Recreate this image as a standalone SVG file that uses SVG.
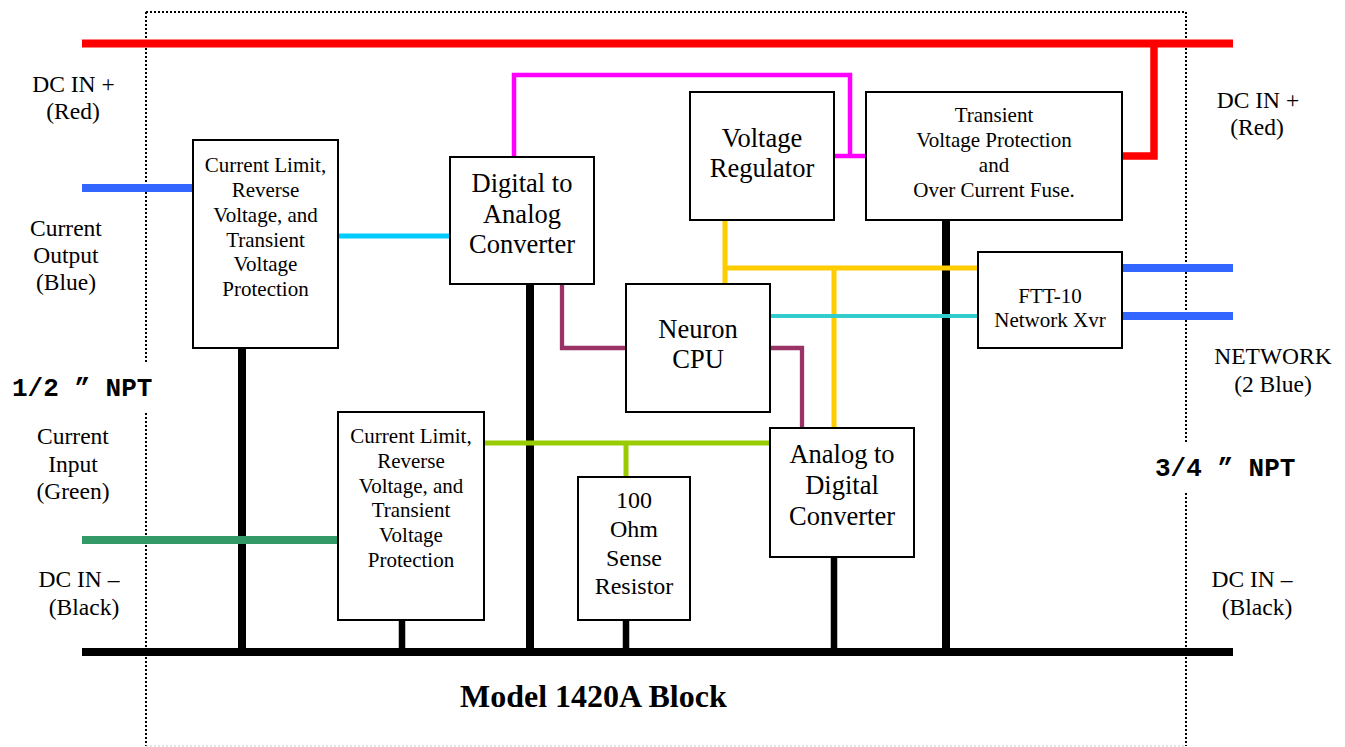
<svg xmlns="http://www.w3.org/2000/svg" width="1345" height="747" viewBox="0 0 1345 747">
  <style>
    .box { fill: #ffffff; stroke: #000000; stroke-width: 2; }
    .t { font-family: "Liberation Serif", "Times New Roman", serif; fill: #000000; text-anchor: middle; }
    .s21 { font-size: 21px; }
    .s24 { font-size: 24px; }
    .s26 { font-size: 26.5px; }
    .lbl { font-family: "Liberation Serif", "Times New Roman", serif; font-size: 23.5px; fill: #000000; text-anchor: middle; }
    .npt { font-family: "Liberation Mono", "Courier New", monospace; font-weight: bold; font-size: 26px; fill: #000000; }
    .title { font-family: "Liberation Serif", "Times New Roman", serif; font-weight: bold; font-size: 32px; fill: #000000; }
    .wire { fill: none; stroke-linecap: butt; stroke-linejoin: miter; }
    .enclosure { fill: none; stroke: #000000; stroke-width: 2; stroke-dasharray: 2 2; }
  </style>

  <rect width="1345" height="747" fill="#ffffff"/>

  <!-- enclosure outline (dotted) -->
  <g id="enclosure">
    <line class="enclosure" x1="146" y1="12" x2="1186" y2="12"/>
    <line class="enclosure" x1="146" y1="12" x2="146" y2="362"/>
    <line class="enclosure" x1="146" y1="413" x2="146" y2="746"/>
    <line class="enclosure" x1="1186" y1="12" x2="1186" y2="442"/>
    <line class="enclosure" x1="1186" y1="493" x2="1186" y2="746"/>
    <line x1="146" y1="746" x2="1186" y2="746" stroke="#c8c8c8" stroke-width="1" stroke-dasharray="2 2"/>
  </g>

  <!-- wiring -->
  <g id="connectors" class="wire">
    <!-- DC+ rail and branch into protection block -->
    <line x1="82" y1="43.5" x2="1233" y2="43.5" stroke="#ff0000" stroke-width="8"/>
    <polyline points="1154,43.5 1154,156 1122,156" stroke="#ff0000" stroke-width="7.5"/>
    <!-- DC- ground bus and drops -->
    <line x1="82" y1="652" x2="1233" y2="652" stroke="#000000" stroke-width="8"/>
    <line x1="242" y1="348" x2="242" y2="652" stroke="#000000" stroke-width="8"/>
    <line x1="530" y1="284" x2="530" y2="652" stroke="#000000" stroke-width="8"/>
    <line x1="946" y1="220" x2="946" y2="652" stroke="#000000" stroke-width="8"/>
    <line x1="402" y1="620" x2="402" y2="652" stroke="#000000" stroke-width="6.5"/>
    <line x1="626" y1="620" x2="626" y2="652" stroke="#000000" stroke-width="6.5"/>
    <line x1="834" y1="557" x2="834" y2="652" stroke="#000000" stroke-width="6.5"/>
    <!-- current output -->
    <line x1="82" y1="188" x2="193" y2="188" stroke="#3366ff" stroke-width="8"/>
    <line x1="338" y1="236" x2="450" y2="236" stroke="#00ccff" stroke-width="5"/>
    <!-- regulated supply to DAC -->
    <polyline points="514,157 514,75 850,75 850,156" stroke="#ff00ff" stroke-width="4.5"/>
    <line x1="834" y1="156" x2="866" y2="156" stroke="#ff00ff" stroke-width="4.5"/>
    <!-- logic supply -->
    <line x1="725" y1="220" x2="725" y2="284" stroke="#ffcc00" stroke-width="5"/>
    <line x1="725" y1="268" x2="978" y2="268" stroke="#ffcc00" stroke-width="5"/>
    <line x1="834" y1="268" x2="834" y2="428" stroke="#ffcc00" stroke-width="5"/>
    <!-- CPU to transceiver -->
    <line x1="770" y1="316" x2="978" y2="316" stroke="#33cccc" stroke-width="4"/>
    <!-- CPU data lines -->
    <polyline points="562,284 562,348 626,348" stroke="#993366" stroke-width="4.3"/>
    <polyline points="770,348 802,348 802,428" stroke="#993366" stroke-width="4.3"/>
    <!-- sense resistor / input -->
    <line x1="484" y1="443" x2="770" y2="443" stroke="#99cc00" stroke-width="5"/>
    <line x1="626" y1="443" x2="626" y2="477" stroke="#99cc00" stroke-width="5"/>
    <line x1="82" y1="540" x2="338" y2="540" stroke="#339966" stroke-width="8"/>
    <!-- network pair -->
    <line x1="1122" y1="268" x2="1233" y2="268" stroke="#3366ff" stroke-width="8"/>
    <line x1="1122" y1="316" x2="1233" y2="316" stroke="#3366ff" stroke-width="8"/>
  </g>

  <!-- blocks -->
  <g id="protect-out">
    <rect class="box" x="193" y="140" width="145" height="208"/>
    <text class="t s21" x="265.5"><tspan x="265.5" y="172">Current Limit,</tspan><tspan x="265.5" y="197">Reverse</tspan><tspan x="265.5" y="222">Voltage, and</tspan><tspan x="265.5" y="247">Transient</tspan><tspan x="265.5" y="271">Voltage</tspan><tspan x="265.5" y="296">Protection</tspan></text>
  </g>

  <g id="protect-in">
    <rect class="box" x="338" y="412" width="146" height="208"/>
    <text class="t s21" x="411"><tspan x="411" y="443">Current Limit,</tspan><tspan x="411" y="468">Reverse</tspan><tspan x="411" y="493">Voltage, and</tspan><tspan x="411" y="517">Transient</tspan><tspan x="411" y="542">Voltage</tspan><tspan x="411" y="567">Protection</tspan></text>
  </g>

  <g id="dac">
    <rect class="box" x="450" y="157" width="144" height="127"/>
    <text class="t s26" x="522"><tspan x="522" y="192">Digital to</tspan><tspan x="522" y="223">Analog</tspan><tspan x="522" y="253">Converter</tspan></text>
  </g>

  <g id="regulator">
    <rect class="box" x="690" y="92" width="144" height="128"/>
    <text class="t s26" x="762"><tspan x="762" y="147">Voltage</tspan><tspan x="762" y="177">Regulator</tspan></text>
  </g>

  <g id="tvp">
    <rect class="box" x="866" y="92" width="256" height="128"/>
    <text class="t s21" x="994"><tspan x="994" y="122">Transient</tspan><tspan x="994" y="147">Voltage Protection</tspan><tspan x="994" y="172">and</tspan><tspan x="994" y="197">Over Current Fuse.</tspan></text>
  </g>

  <g id="cpu">
    <rect class="box" x="626" y="284" width="144" height="128"/>
    <text class="t s26" x="698"><tspan x="698" y="338">Neuron</tspan><tspan x="698" y="368">CPU</tspan></text>
  </g>

  <g id="ftt10">
    <rect class="box" x="978" y="252" width="144" height="96"/>
    <text class="t s21" x="1050"><tspan x="1050" y="303">FTT-10</tspan><tspan x="1050" y="327">Network Xvr</tspan></text>
  </g>

  <g id="adc">
    <rect class="box" x="770" y="428" width="144" height="129"/>
    <text class="t s26" x="842"><tspan x="842" y="463">Analog to</tspan><tspan x="842" y="494">Digital</tspan><tspan x="842" y="525">Converter</tspan></text>
  </g>

  <g id="resistor">
    <rect class="box" x="578" y="477" width="112" height="143"/>
    <text class="t s24" x="634"><tspan x="634" y="508">100</tspan><tspan x="634" y="537">Ohm</tspan><tspan x="634" y="566">Sense</tspan><tspan x="634" y="594">Resistor</tspan></text>
  </g>

  <!-- terminal labels -->
  <g id="labels">
    <text class="lbl"><tspan x="73.5" y="92">DC IN +</tspan><tspan x="73" y="119">(Red)</tspan></text>
    <text class="lbl"><tspan x="66" y="236">Current</tspan><tspan x="66" y="263">Output</tspan><tspan x="66" y="290">(Blue)</tspan></text>
    <text class="lbl"><tspan x="73" y="444">Current</tspan><tspan x="73" y="472">Input</tspan><tspan x="73" y="499">(Green)</tspan></text>
    <text class="lbl"><tspan x="79" y="587">DC IN –</tspan><tspan x="84" y="615">(Black)</tspan></text>
    <text class="lbl"><tspan x="1258" y="108">DC IN +</tspan><tspan x="1257" y="135">(Red)</tspan></text>
    <text class="lbl"><tspan x="1273" y="364">NETWORK</tspan><tspan x="1273" y="392">(2 Blue)</tspan></text>
    <text class="lbl"><tspan x="1252" y="587">DC IN –</tspan><tspan x="1257" y="615">(Black)</tspan></text>
    <text class="npt" x="12" y="396">1/2 ” NPT</text>
    <text class="npt" x="1155" y="476">3/4 ” NPT</text>
    <text class="title" x="460" y="707">Model 1420A Block</text>
  </g>
</svg>
